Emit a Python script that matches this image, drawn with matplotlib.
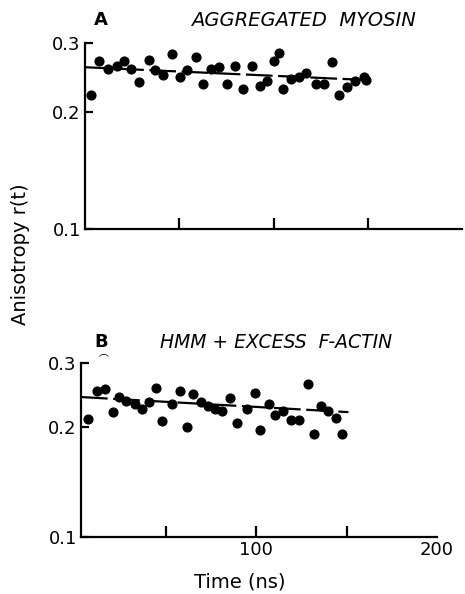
import matplotlib
matplotlib.use('Agg')
import matplotlib.pyplot as plt
from matplotlib.ticker import FixedLocator, NullLocator

# panel A: aggregated myosin
t_a = [3.0, 7.4, 12.4, 17.1, 20.7, 24.2, 28.6, 34.0, 37.1, 41.4, 46.0, 50.2,
       54.3, 58.7, 62.8, 66.7, 71.1, 75.5, 79.6, 84.0, 88.4, 92.7, 96.7, 100.3,
       102.9, 105.2, 109.1, 113.5, 117.1, 122.4, 126.8, 131.2, 134.7, 138.8,
       143.2, 148.0, 149.2]
r_a = [0.221, 0.270, 0.258, 0.262, 0.270, 0.258, 0.238, 0.272, 0.256, 0.248,
       0.281, 0.246, 0.256, 0.276, 0.236, 0.257, 0.260, 0.235, 0.262, 0.229,
       0.262, 0.233, 0.240, 0.269, 0.283, 0.229, 0.243, 0.246, 0.251, 0.235,
       0.235, 0.268, 0.221, 0.231, 0.239, 0.246, 0.241]
fit_t_a = [0, 150]
fit_r_a = [0.260, 0.241]

# panel B: HMM + excess F-actin
t_b = [7.1, 11.7, 16.5, 20.5, 24.0, 27.9, 32.9, 36.6, 40.8, 44.5, 47.6, 53.1,
       57.7, 61.4, 65.1, 69.2, 73.4, 77.1, 81.1, 85.4, 89.4, 94.6, 99.2, 101.9,
       107.1, 110.6, 114.8, 119.1, 123.5, 128.6, 131.9, 136.0, 139.7, 143.9,
       147.6]
r_b = [0.210, 0.252, 0.255, 0.220, 0.242, 0.236, 0.231, 0.225, 0.235, 0.257,
       0.208, 0.232, 0.252, 0.200, 0.247, 0.234, 0.229, 0.225, 0.221, 0.240,
       0.205, 0.224, 0.249, 0.196, 0.231, 0.216, 0.222, 0.209, 0.209, 0.262,
       0.192, 0.229, 0.221, 0.212, 0.192]
fit_t_b = [3, 151]
fit_r_b = [0.242, 0.220]

yticks = [0.1, 0.2, 0.3]
ylabels = ['0.1', '0.2', '0.3']

W, H = 465, 594
fig = plt.figure(figsize=(W / 100, H / 100), dpi=100)

def px(x, y):
    return x / W, 1 - y / H

def style(ax):
    ax.set_yscale('log')
    ax.set_ylim(0.1, 0.3)
    ax.yaxis.set_major_locator(FixedLocator(yticks))
    ax.yaxis.set_minor_locator(NullLocator())
    ax.set_yticklabels(ylabels)
    for s in ['top', 'right']:
        ax.spines[s].set_visible(False)
    for s in ['left', 'bottom']:
        ax.spines[s].set_linewidth(1.6)
    ax.tick_params(axis='both', which='major', direction='in', length=8,
                   width=1.6, labelsize=13, pad=3)
    ax.tick_params(axis='y', which='major', length=6)

# panel A
axa = fig.add_axes([85 / W, 1 - 229 / H, 377 / W, 186 / H])
style(axa)
axa.set_xlim(0, 200)
axa.set_xticks([50, 100, 150])
axa.set_xticklabels(['', '', ''])
axa.plot(fit_t_a, fit_r_a, color='black', lw=1.6, linestyle=(0, (12, 2.5)), zorder=2)
axa.plot(t_a, r_a, 'o', color='black', ms=6.3, zorder=3, clip_on=False)

# panel B
axb = fig.add_axes([81 / W, 1 - 537 / H, 356 / W, 174 / H])
style(axb)
axb.set_xlim(3, 200)
axb.set_xticks([50, 100, 150])
axb.set_xticklabels(['', '100', ''])
axb.set_xticks([200], minor=True)
axb.set_xticklabels(['200'], minor=True)
axb.tick_params(axis='x', which='minor', direction='in', length=0,
                labelsize=13, pad=3)
axb.plot(fit_t_b, fit_r_b, color='black', lw=1.6, linestyle=(0, (12, 2.5)), zorder=2)
axb.plot(t_b, r_b, 'o', color='black', ms=6.3, zorder=3, clip_on=False)

# labels
fig.text(*px(101, 20), 'A', fontsize=13, fontweight='bold', ha='center', va='center')
fig.text(*px(191, 21), 'AGGREGATED  MYOSIN', fontsize=14, style='italic',
         ha='left', va='center')
fig.text(*px(101, 342), 'B', fontsize=13, fontweight='bold', ha='center', va='center')
fig.text(*px(160, 343), 'HMM + EXCESS  F-ACTIN', fontsize=13.5, style='italic',
         ha='left', va='center')
fig.text(*px(104, 358), '⌒', fontsize=7, ha='center', va='center',
         family=['DejaVu Sans', 'Noto Sans CJK JP'])
fig.text(*px(20, 254), 'Anisotropy r(t)', fontsize=14, rotation=90,
         ha='center', va='center')
fig.text(*px(240, 582), 'Time (ns)', fontsize=14, ha='center', va='center')

fig.savefig('out.png', dpi=100)
